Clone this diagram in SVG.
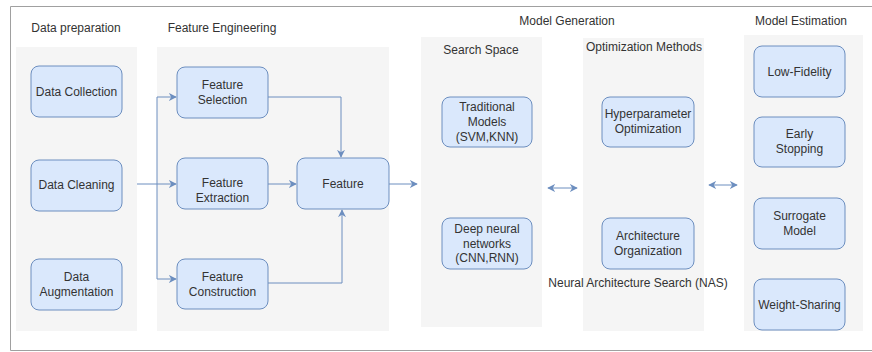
<svg xmlns="http://www.w3.org/2000/svg" width="872" height="352" viewBox="0 0 872 352">
<style>
text{font-family:"Liberation Sans",Arial,sans-serif;font-size:12px;fill:#333333;text-anchor:middle;dominant-baseline:central}
.panel{fill:#f5f5f5;stroke:none}
.node rect{fill:#dae8fc;stroke:#6c8ebf;stroke-width:1}
.conn{fill:none;stroke:#6c8ebf;stroke-width:1}
</style>
<defs>
<marker id="ah" viewBox="0 0 10 10" refX="9" refY="5" markerWidth="8" markerHeight="8" orient="auto-start-reverse" markerUnits="userSpaceOnUse">
<path d="M0,0 L10,5 L0,10 L3,5 Z" fill="#6c8ebf"/>
</marker>
</defs>
<rect x="0" y="0" width="872" height="352" fill="#ffffff"/>
<path d="M872,6.5 H10.5 V350.5 H872" fill="none" stroke="#a0a0a0" stroke-width="1"/>

<g id="panels">
<rect class="panel" x="16" y="47" width="121" height="284"/>
<rect class="panel" x="157" y="47" width="232" height="284"/>
<rect class="panel" x="421" y="37" width="121" height="290"/>
<rect class="panel" x="583" y="38" width="121" height="293"/>
<rect class="panel" x="744" y="35" width="119" height="296"/>
</g>

<g id="titles">
<text x="76" y="28">Data preparation</text>
<text x="222" y="28">Feature Engineering</text>
<text x="567" y="21">Model Generation</text>
<text x="801" y="21">Model Estimation</text>
<text x="481" y="50">Search Space</text>
<text x="644" y="47">Optimization Methods</text>
<text x="638" y="283">Neural Architecture Search (NAS)</text>
</g>

<g id="connectors">
<path class="conn" d="M137,184 H176" marker-end="url(#ah)"/>
<path class="conn" d="M157,184 V97 H176" marker-end="url(#ah)"/>
<path class="conn" d="M157,184 V279 H176" marker-end="url(#ah)"/>
<path class="conn" d="M268,184 H296" marker-end="url(#ah)"/>
<path class="conn" d="M268,97 H341 V157" marker-end="url(#ah)"/>
<path class="conn" d="M268,283 H342 V210" marker-end="url(#ah)"/>
<path class="conn" d="M389,184 H417" marker-end="url(#ah)"/>
<path class="conn" d="M548,188 H577" marker-start="url(#ah)" marker-end="url(#ah)"/>
<path class="conn" d="M709,185 H737" marker-start="url(#ah)" marker-end="url(#ah)"/>
</g>

<g id="data-collection" class="node"><rect x="31" y="66" width="91" height="51" rx="8"/><text x="76.5" y="91.5">Data Collection</text></g>
<g id="data-cleaning" class="node"><rect x="31" y="160" width="91" height="51" rx="8"/><text x="76.5" y="185">Data Cleaning</text></g>
<g id="data-augmentation" class="node"><rect x="31" y="259" width="91" height="51" rx="8"/><text x="76.5" y="277">Data</text><text x="76.5" y="292">Augmentation</text></g>

<g id="feature-selection" class="node"><rect x="177" y="67" width="91" height="51" rx="8"/><text x="222.5" y="85">Feature</text><text x="222.5" y="100">Selection</text></g>
<g id="feature-extraction" class="node"><rect x="177" y="158" width="91" height="51" rx="8"/><text x="222.5" y="183">Feature</text><text x="222.5" y="198">Extraction</text></g>
<g id="feature-construction" class="node"><rect x="177" y="259" width="91" height="50" rx="8"/><text x="222.5" y="277">Feature</text><text x="222.5" y="292">Construction</text></g>
<g id="feature" class="node"><rect x="297" y="158" width="92" height="51" rx="8"/><text x="343" y="183.5">Feature</text></g>

<g id="traditional-models" class="node"><rect x="442" y="97" width="90" height="50" rx="8"/><text x="487" y="107">Traditional</text><text x="487" y="122">Models</text><text x="487" y="137">(SVM,KNN)</text></g>
<g id="deep-neural-networks" class="node"><rect x="442" y="218" width="90" height="51" rx="8"/><text x="487" y="229">Deep neural</text><text x="487" y="243.5">networks</text><text x="487" y="258">(CNN,RNN)</text></g>

<g id="hyperparameter-optimization" class="node"><rect x="602" y="97" width="92" height="50" rx="8"/><text x="648" y="113.5">Hyperparameter</text><text x="648" y="128.5">Optimization</text></g>
<g id="architecture-organization" class="node"><rect x="602" y="218" width="92" height="51" rx="8"/><text x="648" y="236">Architecture</text><text x="648" y="251">Organization</text></g>

<g id="low-fidelity" class="node"><rect x="754" y="46" width="91" height="51" rx="8"/><text x="799.5" y="71.5">Low-Fidelity</text></g>
<g id="early-stopping" class="node"><rect x="754" y="117" width="91" height="50" rx="8"/><text x="799.5" y="134">Early</text><text x="799.5" y="149">Stopping</text></g>
<g id="surrogate-model" class="node"><rect x="754" y="198" width="91" height="51" rx="8"/><text x="799.5" y="216">Surrogate</text><text x="799.5" y="231">Model</text></g>
<g id="weight-sharing" class="node"><rect x="754" y="279" width="91" height="51" rx="8"/><text x="799.5" y="304.5">Weight-Sharing</text></g>
</svg>
